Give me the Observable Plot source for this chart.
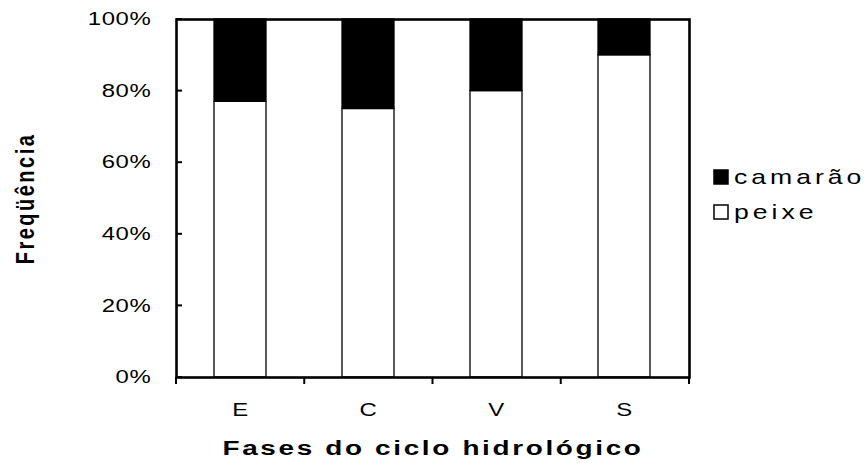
<!DOCTYPE html>
<html><head><meta charset="utf-8">
<script src="https://cdn.jsdelivr.net/npm/d3@7"></script>
<script src="https://cdn.jsdelivr.net/npm/@observablehq/plot@0.6"></script>
<style>
body{margin:0;background:#fff}
svg{font-family:"Liberation Sans",Arial,sans-serif}
</style>
</head><body><div id="chart"></div>
<script>
const phases = ["E", "C", "V", "S"];
const stackOrder = ["peixe", "camarão"];
const peixe = [77, 75, 80, 90];
const camarao = [23, 25, 20, 10];
const yTicks = [0, 0.2, 0.4, 0.6, 0.8, 1];
const yTitle = "Freqüência";
const xTitle = "Fases do ciclo hidrológico";
const legendItems = ["camarão", "peixe"];
const seriesColors = ["black", "white"];

const rows = phases.flatMap((p, i) => [
  {fase: p, serie: "peixe", v: peixe[i]},
  {fase: p, serie: "camarão", v: camarao[i]}
]);
const fmt = d3.format(".0%");
const SX = 1.33; // the reference's text is stretched horizontally

const plot = Plot.plot({
  width: 868, height: 467,
  marginLeft: 176, marginRight: 179, marginTop: 19, marginBottom: 90,
  style: {fontFamily: "'Liberation Sans', Arial, sans-serif", fontSize: "18px", color: "black", background: "white"},
  x: {domain: phases, paddingInner: 0.59, paddingOuter: 0.295, label: null},
  y: {domain: [0, 1], label: null},
  color: {domain: legendItems, range: seriesColors},
  marks: [
    Plot.barY(rows, Plot.stackY({x: "fase", y: "v", fill: "serie", order: stackOrder, offset: "normalize", stroke: "black", strokeWidth: 1.3})),
    Plot.axisY({ticks: yTicks, tickFormat: fmt, tickSize: 0, tickPadding: 25, label: null, fontSize: 18}),
    Plot.axisX({tickSize: 0, tickPadding: 26, label: null, fontSize: 18}),
    Plot.frame({stroke: "black", strokeWidth: 2.6}),
    Plot.text([yTitle], {frameAnchor: "left", textAnchor: "middle", dx: -151, rotate: -90, fontWeight: "bold", fontSize: 20}),
    Plot.text([xTitle], {frameAnchor: "bottom", textAnchor: "middle", dy: 77, fontWeight: "bold", fontSize: 21})
  ]
});
document.getElementById("chart").appendChild(plot);

const svg = d3.select(plot);

function num(v) {
  if (v == null) return 0;
  const s = String(v).trim();
  return /^-?[\d.]+(px)?$/.test(s) ? parseFloat(s) : 0;
}
function stretch(el, sx, sy) {
  const t = d3.select(el);
  const x = num(t.attr("x")), y = num(t.attr("y"));
  const tr = t.attr("transform") || "";
  t.attr("transform", `${tr} translate(${x},${y}) scale(${sx},${sy}) translate(${-x},${-y})`);
}

const yLabels = new Set(yTicks.map(fmt));
svg.selectAll("text").each(function () {
  const t = d3.select(this), s = t.text();
  if (yLabels.has(s) || phases.includes(s)) {
    t.style("font-size", "18px").style("letter-spacing", "0.5px");
    stretch(this, SX, 1);
  } else if (s === yTitle) {
    t.style("letter-spacing", "2.5px");
    stretch(this, 1, SX);
  } else if (s === xTitle) {
    t.style("letter-spacing", "2px");
    stretch(this, SX, 1);
  }
});

// ticks drawn through the plot's own scales
const xs = plot.scale("x");
const ys = plot.scale("y");
const [r0, r1] = xs.range;
const step = (r1 - r0) / phases.length;
const yBottom = ys.apply(0);
const g = svg.append("g").attr("stroke", "black").attr("stroke-width", 2);
d3.range(phases.length + 1).forEach(i => {
  const x = r0 + i * step;
  g.append("line").attr("x1", x).attr("x2", x).attr("y1", yBottom).attr("y2", yBottom + 7);
});
yTicks.forEach(t => {
  const y = ys.apply(t);
  g.append("line").attr("x1", r0).attr("x2", r0 + 6).attr("y1", y).attr("y2", y);
});

// legend
const lg = svg.append("g").attr("transform", `translate(${r1 + 25}, 170)`).attr("text-anchor", "start");
legendItems.forEach((name, i) => {
  const row = lg.append("g").attr("transform", `translate(0, ${i * 35})`);
  row.append("rect").attr("width", 14).attr("height", 14)
    .attr("fill", plot.scale("color").apply(name)).attr("stroke", "black").attr("stroke-width", 1.5);
  const txt = row.append("text").attr("x", 20).attr("y", 7).attr("dy", "0.35em")
    .style("font-size", "20px").style("letter-spacing", "3px").attr("fill", "black").text(name);
  stretch(txt.node(), SX, 1);
});
</script>
</body></html>
